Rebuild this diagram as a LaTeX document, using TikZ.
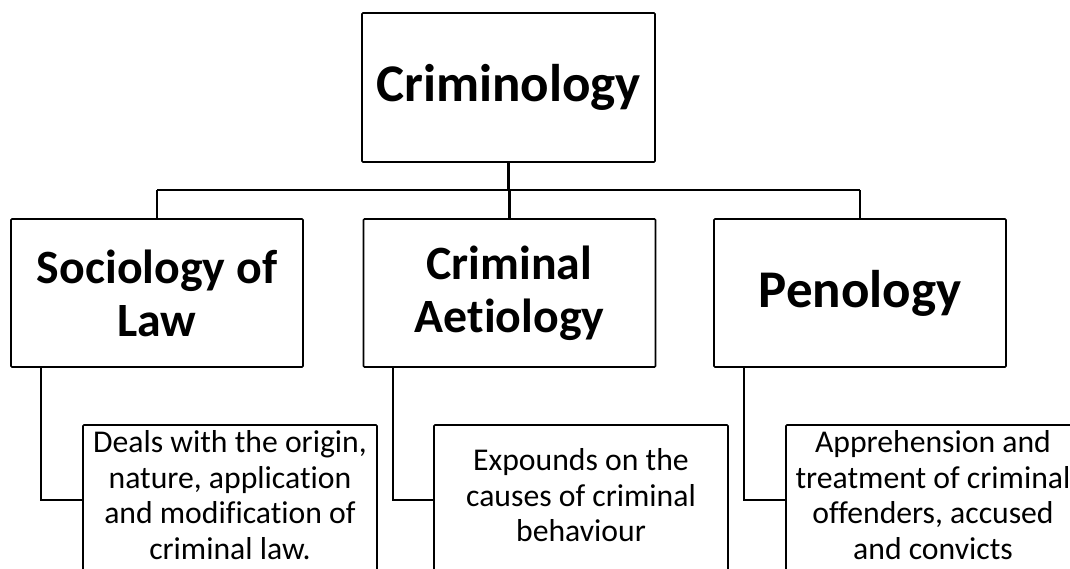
\documentclass[tikz,border=0pt]{standalone}
\usepackage{fontspec}
\setmainfont[Ligatures={NoCommon}]{Carlito}
\begin{document}
\begin{tikzpicture}[x=1pt,y=1pt,
  box/.style={draw=black, line width=1.6pt, rounded corners=1pt, fill=white, inner sep=0pt, align=center},
  head/.style={box, font=\bfseries\fontsize{53}{56}\selectfont},
  sub/.style={box, minimum width=292pt, minimum height=148pt, font=\bfseries\fontsize{47.8}{53}\selectfont},
  leaf/.style={box, minimum width=294pt, minimum height=150pt, text depth=10pt, font=\fontsize{31.7}{35.7}\selectfont},
  conn/.style={draw=black, line width=2.4pt}]
\useasboundingbox (0,0) rectangle (1070,-568);
\clip (0,0) rectangle (1070,-568);
\node[head, minimum width=293pt, minimum height=149pt] (crim) at (508.5,-87.5) {Criminology};
\node[sub] (soc) at (157,-293) {Sociology of\\Law};
\node[sub] (aet) at (509.5,-293) {Criminal\\Aetiology};
\node[sub, font=\bfseries\fontsize{53}{56}\selectfont] (pen) at (860,-293) {Penology};
\coordinate (bus) at (0,-190);
\draw[conn] (crim.south) -- (crim.south |- bus);
\draw[conn] (soc.north |- bus) -- (pen.north |- bus);
\draw[conn] (soc.north |- bus) -- (soc.north);
\draw[conn] (aet.north |- bus) -- (aet.north);
\draw[conn] (pen.north |- bus) -- (pen.north);
\node[leaf] (la) at (230,-500) {Deals with the origin,\\nature, application\\and modification of\\criminal law.};
\node[leaf] (lb) at (581,-500) {Expounds on the\\causes of criminal\\behaviour};
\node[leaf] (lc) at (933,-500) {Apprehension and\\treatment of criminal\\offenders, accused\\and convicts};
\coordinate (ca) at (41,-367);
\coordinate (cb) at (393,-367);
\coordinate (cc) at (744,-367);
\draw[conn] (ca) |- (la.west);
\draw[conn] (cb) |- (lb.west);
\draw[conn] (cc) |- (lc.west);
\end{tikzpicture}
\end{document}
